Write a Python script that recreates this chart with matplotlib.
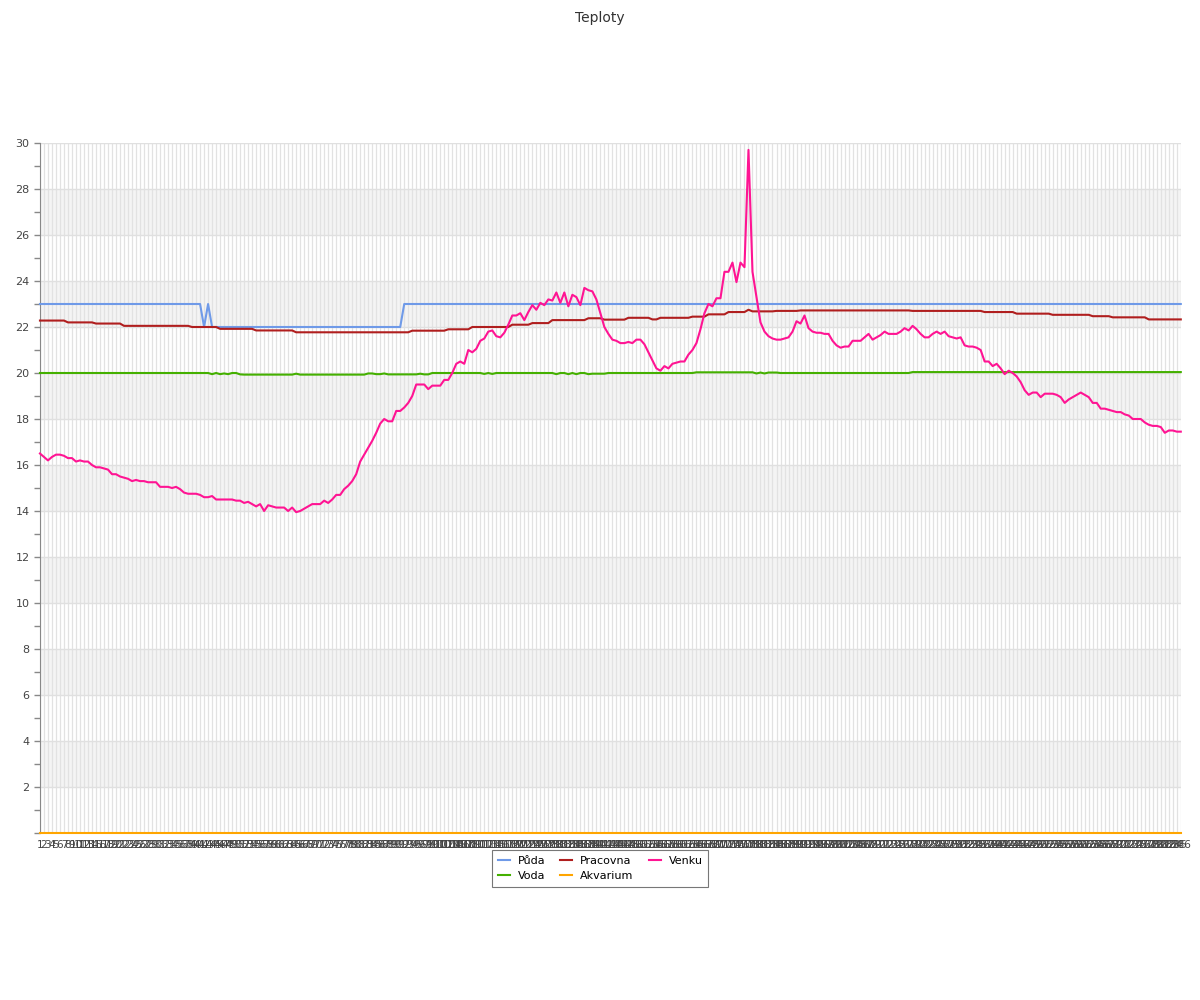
import matplotlib
matplotlib.use("Agg")
from matplotlib import pyplot as plt
import numpy as np


# series names (legend order: column by column)
names = ["Půda", "Voda", "Pracovna", "Akvarium", "Venku"]
colors = ["#6f9ae8", "#44b000", "#b01e1e", "#ffa500", "#ff1493"]

# flat series stored as (value, count) runs
puda_runs = [(23.0, 41), (22.0, 1), (23.0, 1), (22.0, 48), (23.0, 195)]

voda_runs = [(20.0, 43), (19.95, 1), (20.0, 1), (19.95, 1), (19.98, 1), (19.95, 1),
             (20.0, 2), (19.94, 1), (19.93, 13), (19.97, 1), (19.93, 17), (19.98, 2),
             (19.95, 2), (19.98, 1), (19.94, 8), (19.97, 1), (19.94, 2), (20.0, 13),
             (19.96, 1), (20.0, 1), (19.96, 1), (20.0, 15), (19.95, 1), (20.0, 2),
             (19.95, 1), (20.0, 1), (19.95, 1), (20.0, 2), (19.95, 1), (19.97, 4),
             (20.0, 22), (20.03, 15), (19.98, 1), (20.02, 1), (19.98, 1), (20.02, 3),
             (20.0, 33), (20.04, 68)]

pracovna_runs = [(22.28, 7), (22.2, 7), (22.15, 7), (22.05, 17), (22.0, 7), (21.92, 9),
                 (21.85, 10), (21.77, 29), (21.84, 9), (21.9, 6), (22.0, 10), (22.1, 5),
                 (22.17, 5), (22.3, 9), (22.38, 4), (22.32, 6), (22.4, 6), (22.33, 2),
                 (22.4, 8), (22.45, 4), (22.55, 5), (22.65, 5), (22.75, 1), (22.68, 6),
                 (22.7, 6), (22.72, 28), (22.7, 18), (22.65, 8), (22.58, 9), (22.53, 10),
                 (22.47, 5), (22.42, 9), (22.33, 9)]

akvarium_runs = [(0.0, 286)]

venku = [
    16.5, 16.35, 16.2, 16.35, 16.45, 16.45, 16.4, 16.3, 16.3, 16.15,
    16.2, 16.15, 16.15, 16.0, 15.9, 15.9, 15.85, 15.8, 15.6, 15.6,
    15.5, 15.45, 15.4, 15.3, 15.35, 15.3, 15.3, 15.25, 15.25, 15.25,
    15.05, 15.05, 15.05, 15.0, 15.05, 14.95, 14.8, 14.75, 14.75, 14.75,
    14.7, 14.6, 14.6, 14.65, 14.5, 14.5, 14.5, 14.5, 14.5, 14.45,
    14.45, 14.35, 14.4, 14.3, 14.2, 14.3, 14.0, 14.25, 14.2, 14.15,
    14.15, 14.15, 14.0, 14.15, 13.95, 14.0, 14.1, 14.2, 14.3, 14.3,
    14.3, 14.45, 14.35, 14.5, 14.7, 14.7, 14.95, 15.1, 15.3, 15.6,
    16.15, 16.45, 16.75, 17.05, 17.4, 17.8, 18.0, 17.9, 17.9, 18.35,
    18.35, 18.5, 18.7, 19.0, 19.5, 19.5, 19.5, 19.3, 19.45, 19.45,
    19.45, 19.7, 19.7, 20.0, 20.4, 20.5, 20.4, 21.0, 20.9, 21.05,
    21.4, 21.5, 21.8, 21.85, 21.6, 21.55, 21.75, 22.1, 22.5, 22.5,
    22.6, 22.3, 22.65, 22.95, 22.75, 23.05, 22.95, 23.2, 23.15, 23.5,
    23.05, 23.5, 22.9, 23.4, 23.3, 22.95, 23.7, 23.6, 23.55, 23.2,
    22.6, 22.0, 21.7, 21.45, 21.4, 21.3, 21.3, 21.35, 21.3, 21.45,
    21.45, 21.25, 20.9, 20.55, 20.2, 20.1, 20.3, 20.2, 20.4, 20.45,
    20.5, 20.5, 20.8, 21.0, 21.3, 21.9, 22.6, 23.0, 22.9, 23.25,
    23.25, 24.4, 24.4, 24.8, 23.95, 24.8, 24.6, 29.7, 24.4, 23.3,
    22.2, 21.8, 21.6, 21.5, 21.45, 21.45, 21.5, 21.55, 21.8, 22.25,
    22.15, 22.5, 21.95, 21.8, 21.75, 21.75, 21.7, 21.7, 21.4, 21.2,
    21.1, 21.15, 21.15, 21.4, 21.4, 21.4, 21.55, 21.7, 21.45, 21.55,
    21.65, 21.8, 21.7, 21.7, 21.7, 21.8, 21.95, 21.85, 22.05, 21.9,
    21.7, 21.55, 21.55, 21.7, 21.8, 21.7, 21.8, 21.6, 21.55, 21.5,
    21.55, 21.2, 21.15, 21.15, 21.1, 21.0, 20.5, 20.5, 20.3, 20.4,
    20.2, 19.95, 20.1, 20.0, 19.85, 19.6, 19.25, 19.05, 19.15, 19.15,
    18.95, 19.1, 19.1, 19.1, 19.05, 18.95, 18.7, 18.85, 18.95, 19.05,
    19.15, 19.05, 18.95, 18.7, 18.7, 18.45, 18.45, 18.4, 18.35, 18.3,
    18.3, 18.2, 18.15, 18.0, 18.0, 18.0, 17.85, 17.75, 17.7, 17.7,
    17.65, 17.4, 17.5, 17.5, 17.45, 17.45,
]

labels = [str(n) for n in range(1, len(venku) + 1)]


def expand(runs):
    return [v for v, n in runs for _ in range(n)]


series = [expand(puda_runs), expand(voda_runs), expand(pracovna_runs),
          expand(akvarium_runs), venku]
x = np.arange(len(venku))

fig = plt.figure(figsize=(12, 10), dpi=100)
ax = fig.add_axes([0.0333, 0.167, 0.9507, 0.690])

for lo in range(2, 30, 4):
    ax.axhspan(lo, lo + 2, color="#f4f4f4", zorder=0, lw=0)

zorders = [3, 3, 3, 4, 5]
for name, color, values, z in zip(names, colors, series, zorders):
    ax.plot(x, values, color=color, lw=1.5, label=name, zorder=z, clip_on=False)

ax.set_xlim(0, len(venku) - 1)
ax.set_ylim(0, 30)

ax.set_xticks(x)
ax.set_xticklabels(labels, fontsize=7.5, color="#444444")
ax.tick_params(axis="x", length=0, pad=5)
ax.grid(axis="x", color="#e2e2e2", lw=0.9, zorder=1)

ax.set_yticks(range(0, 31, 2))
ax.set_yticklabels([""] + [str(v) for v in range(2, 31, 2)], fontsize=8, color="#444444")
ax.set_yticks(range(1, 30, 2), minor=True)
ax.tick_params(axis="y", which="both", length=4, color="#888888", width=1)
ax.yaxis.grid(True, which="major", color="#e0e0e0", lw=1)
ax.set_axisbelow(True)

for side in ["top", "right", "bottom"]:
    ax.spines[side].set_visible(False)
ax.spines["left"].set_color("#888888")

fig.text(0.5, 0.989, "Teploty", ha="center", va="top", fontsize=10, color="#333333")

leg = fig.legend(loc="upper center", bbox_to_anchor=(0.5, 0.15), ncol=3,
                 fontsize=8, handlelength=1.1, handletextpad=0.7, columnspacing=1.35,
                 borderpad=0.5, borderaxespad=0, fancybox=False, framealpha=1,
                 edgecolor="#777777", labelspacing=0.5)
leg.get_frame().set_linewidth(0.8)

fig.savefig("out.png", dpi=100)
